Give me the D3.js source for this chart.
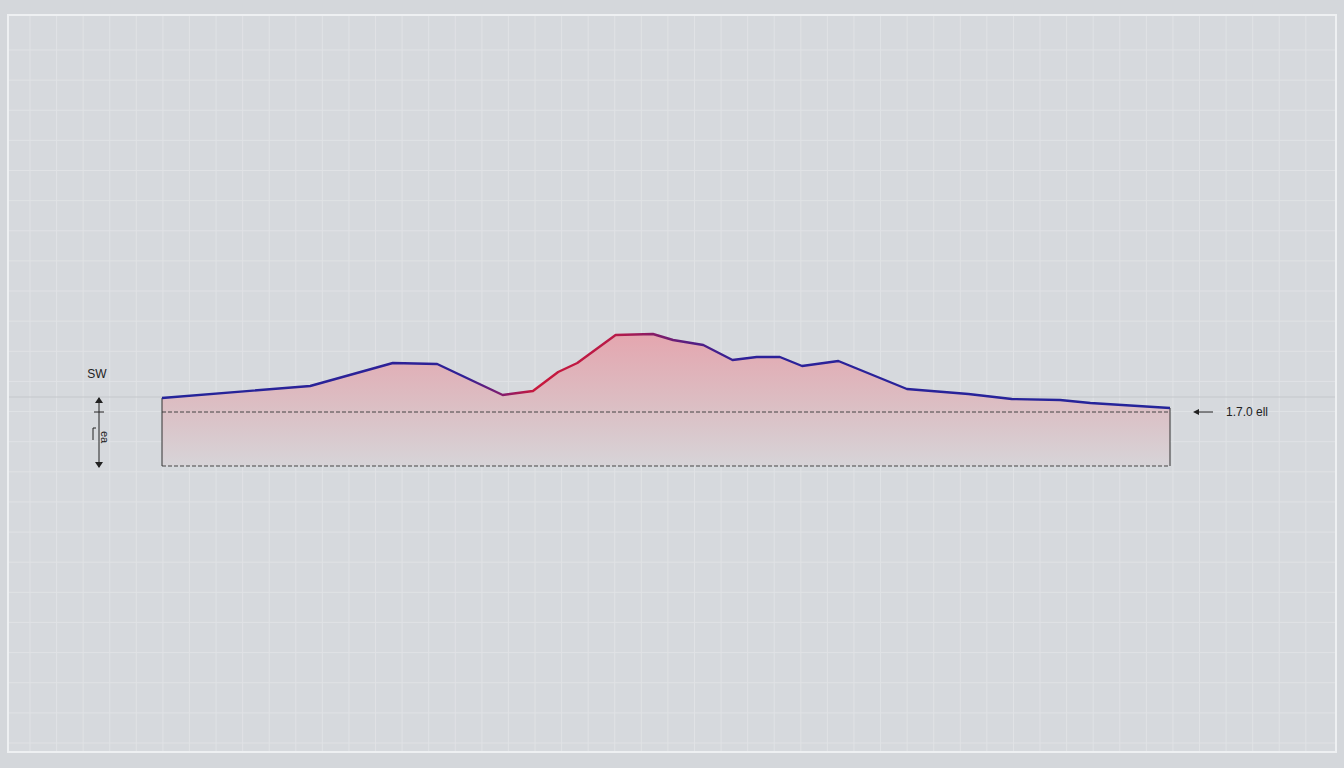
<!DOCTYPE html>
<html>
<head>
<meta charset="utf-8">
<script src="https://cdn.jsdelivr.net/npm/d3@7"></script>
<style>
  body { margin: 0; background: #d4d7db; }
  svg { display: block; }
</style>
</head>
<body>
<div id="chart"></div>
<script>
// profile data (distance along section, height)
const distance = [0, 14.7, 22.9, 27.3, 33.8, 36.8, 39.3, 41.2, 45.0, 48.7, 50.7, 53.7, 56.6, 59.0, 61.3, 63.5, 67.1, 73.9, 80.0, 84.3, 89.1, 92.1, 100]
const height = [3.4, 4.0, 5.15, 5.1, 3.55, 3.75, 4.7, 5.15, 6.55, 6.6, 6.3, 6.05, 5.3, 5.45, 5.45, 5.0, 5.25, 3.85, 3.6, 3.35, 3.3, 3.15, 2.9]
const refLevel = 2.7      // dashed reference line
const baseLevel = 0       // bottom of section
const surfaceLevel = 3.45 // long grey line across the frame
const leftLabel = "SW"
const sideLabel = "ea"
const rightLabel = "1.7.0 ell"

const W = 1344, H = 768

const data = distance.map((d, i) => ({ x: d, y: height[i] }))

const svg = d3.select('#chart')
    .append('svg')
    .attr('width', W)
    .attr('height', H)

const xScale = d3.scaleLinear().domain([0, 100]).range([162, 1170])
const yScale = d3.scaleLinear().domain([0, 10]).range([466, 266])

// frame
svg.append('rect')
    .attr('x', 8).attr('y', 15)
    .attr('width', 1328).attr('height', 737)
    .attr('fill', '#d6d9dd')
    .attr('stroke', '#eef0f2')
    .attr('stroke-width', 2)

// grid
const grid = svg.append('g').attr('stroke', '#e0e2e5').attr('stroke-width', 1)
d3.range(30, 1330, 26.58).forEach(x => {
    grid.append('line').attr('x1', x).attr('x2', x).attr('y1', 16).attr('y2', 751)
})
d3.range(50, 750, 30.13).forEach(y => {
    grid.append('line').attr('x1', 9).attr('x2', 1335).attr('y1', y).attr('y2', y)
})

// long surface line
svg.append('line')
    .attr('x1', 9).attr('x2', 1335)
    .attr('y1', yScale(surfaceLevel)).attr('y2', yScale(surfaceLevel))
    .attr('stroke', '#c4c7cb').attr('stroke-width', 1)

const defs = svg.append('defs')
const fillGrad = defs.append('linearGradient')
    .attr('id', 'fillGrad')
    .attr('gradientUnits', 'userSpaceOnUse')
    .attr('x1', 0).attr('x2', 0)
    .attr('y1', yScale(6.6)).attr('y2', yScale(0))
fillGrad.append('stop').attr('offset', '0%').attr('stop-color', '#e4a6af')
fillGrad.append('stop').attr('offset', '58%').attr('stop-color', '#dbc0c5')
fillGrad.append('stop').attr('offset', '100%').attr('stop-color', '#d7d4d8')

const lineGrad = defs.append('linearGradient')
    .attr('id', 'lineGrad')
    .attr('gradientUnits', 'userSpaceOnUse')
    .attr('x1', xScale(0)).attr('x2', xScale(100))
    .attr('y1', 0).attr('y2', 0)
lineGrad.append('stop').attr('offset', '0%').attr('stop-color', '#24249a')
lineGrad.append('stop').attr('offset', '30%').attr('stop-color', '#2f2096')
lineGrad.append('stop').attr('offset', '34%').attr('stop-color', '#8a1c6a')
lineGrad.append('stop').attr('offset', '37%').attr('stop-color', '#c8183c')
lineGrad.append('stop').attr('offset', '45%').attr('stop-color', '#b81a48')
lineGrad.append('stop').attr('offset', '52%').attr('stop-color', '#5a1e80')
lineGrad.append('stop').attr('offset', '58%').attr('stop-color', '#2c2199')
lineGrad.append('stop').attr('offset', '100%').attr('stop-color', '#24249a')

// area
const area = d3.area()
    .x(d => xScale(d.x))
    .y0(yScale(baseLevel))
    .y1(d => yScale(d.y))
svg.append('path')
    .datum(data)
    .attr('fill', 'url(#fillGrad)')
    .attr('d', area)

// dashed lines
svg.append('line')
    .attr('x1', xScale(0)).attr('x2', xScale(100))
    .attr('y1', yScale(refLevel)).attr('y2', yScale(refLevel))
    .attr('stroke', '#444').attr('stroke-width', 1)
    .attr('stroke-dasharray', '4,2')
svg.append('line')
    .attr('x1', xScale(0)).attr('x2', xScale(100))
    .attr('y1', yScale(baseLevel)).attr('y2', yScale(baseLevel))
    .attr('stroke', '#444').attr('stroke-width', 1)
    .attr('stroke-dasharray', '4,2')

// side walls
svg.append('line')
    .attr('x1', xScale(0)).attr('x2', xScale(0))
    .attr('y1', yScale(height[0])).attr('y2', yScale(baseLevel))
    .attr('stroke', '#333').attr('stroke-width', 1)
svg.append('line')
    .attr('x1', xScale(100)).attr('x2', xScale(100))
    .attr('y1', yScale(height[height.length - 1])).attr('y2', yScale(baseLevel))
    .attr('stroke', '#333').attr('stroke-width', 1)

// profile line
const line = d3.line()
    .x(d => xScale(d.x))
    .y(d => yScale(d.y))
svg.append('path')
    .datum(data)
    .attr('fill', 'none')
    .attr('stroke', 'url(#lineGrad)')
    .attr('stroke-width', 2.4)
    .attr('stroke-linejoin', 'round')
    .attr('d', line)

// left annotation
const ax = 99
svg.append('text')
    .attr('x', 97).attr('y', 378)
    .attr('text-anchor', 'middle')
    .style('font-family', 'Liberation Sans, Arial, sans-serif')
    .style('font-size', '12px')
    .attr('fill', '#222')
    .text(leftLabel)
svg.append('line')
    .attr('x1', ax).attr('x2', ax)
    .attr('y1', yScale(surfaceLevel) + 1).attr('y2', yScale(baseLevel) + 1)
    .attr('stroke', '#222').attr('stroke-width', 1)
svg.append('path')
    .attr('d', `M${ax - 4},${yScale(surfaceLevel) + 6} L${ax},${yScale(surfaceLevel)} L${ax + 4},${yScale(surfaceLevel) + 6} Z`)
    .attr('fill', '#222')
svg.append('path')
    .attr('d', `M${ax - 4},${yScale(baseLevel) - 4} L${ax},${yScale(baseLevel) + 2} L${ax + 4},${yScale(baseLevel) - 4} Z`)
    .attr('fill', '#222')
svg.append('line')
    .attr('x1', ax - 5).attr('x2', ax + 5)
    .attr('y1', yScale(refLevel)).attr('y2', yScale(refLevel))
    .attr('stroke', '#222').attr('stroke-width', 1)
svg.append('path')
    .attr('d', `M${ax - 3},${yScale(1.9)} L${ax - 6},${yScale(1.9)} L${ax - 6},${yScale(1.3)}`)
    .attr('fill', 'none').attr('stroke', '#222').attr('stroke-width', 1)
svg.append('text')
    .attr('transform', `translate(${ax + 2},${yScale(1.45)}) rotate(90)`)
    .attr('text-anchor', 'middle')
    .style('font-family', 'Liberation Sans, Arial, sans-serif')
    .style('font-size', '11px')
    .attr('fill', '#222')
    .text(sideLabel)

// right annotation
const ry = yScale(refLevel)
svg.append('line')
    .attr('x1', 1195).attr('x2', 1213)
    .attr('y1', ry).attr('y2', ry)
    .attr('stroke', '#222').attr('stroke-width', 1)
svg.append('path')
    .attr('d', `M1193,${ry} L1199,${ry - 3} L1199,${ry + 3} Z`)
    .attr('fill', '#222')
svg.append('text')
    .attr('x', 1226).attr('y', ry + 4)
    .style('font-family', 'Liberation Sans, Arial, sans-serif')
    .style('font-size', '12px')
    .attr('fill', '#222')
    .text(rightLabel)
</script>
</body>
</html>
